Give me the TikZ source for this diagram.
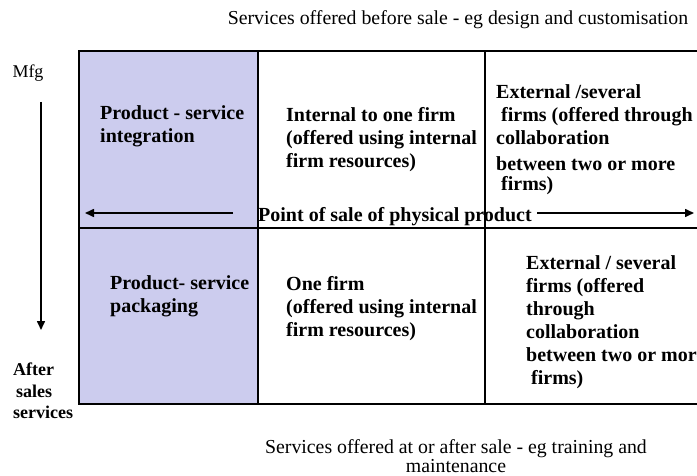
\documentclass[tikz,border=0pt]{standalone}
\usepackage{fontspec}
\setmainfont{Liberation Serif}
\usetikzlibrary{arrows.meta}
\definecolor{lav}{RGB}{204,204,238}
\begin{document}
\begin{tikzpicture}[x=1pt,y=-1pt,
  bt/.style={font=\fontsize{20}{23}\selectfont\bfseries, align=left, inner sep=0pt, anchor=north west},
  rt/.style={font=\fontsize{19.8}{19}\selectfont, align=center, inner sep=0pt},
  grid/.style={line width=1.8pt},
  arr/.style={line width=1.6pt, -{Triangle[length=9pt,width=8pt]}}]
\useasboundingbox (0,0) rectangle (697,476);
\clip (0,0) rectangle (697,476);
% cells
\fill[lav] (79,51) rectangle (258,404);
\draw[grid] (79,51) rectangle (720,404);
\draw[grid] (79,228) -- (720,228);
\draw[grid] (258,51) -- (258,404);
\draw[grid] (485,51) -- (485,404);
% texts
\node[rt] (top) at (458,20) {Services offered before sale - eg design and customisation};
\node[rt] (bot) at (456,456) {Services offered at or after sale - eg training and\\maintenance};
\node[rt, font=\fontsize{18}{20}\selectfont] (mfg) at (28,73) {Mfg};
\node[font=\fontsize{18}{21.5}\selectfont\bfseries, align=left, inner sep=0pt, anchor=north west] (after) at (13,363) {After\\\,sales\\services};
\node[bt] (c11) at (100,105) {Product - service\\integration};
\node[bt] (c12) at (286,107) {Internal to one firm\\(offered using internal\\firm resources)};
\node[bt] (c13) at (496,84) {External /several\\\ firms (offered through\\collaboration\\[3pt]between two or more\\[-3pt]\ firms)};
\node[bt] (c21) at (110,275) {Product- service\\packaging};
\node[bt] (c22) at (286,276) {One firm\\(offered using internal\\firm resources)};
\node[bt] (c23) at (526,255) {External / several\\firms (offered\\through\\collaboration\\between two or more\\\ firms)};
\node[bt, anchor=base west] (pos) at (258,222) {Point of sale of physical product};
% arrows
\coordinate (vt) at (41,102);
\coordinate (vb) at (41,330);
\coordinate (lt) at (233,213);
\coordinate (lh) at (85,213);
\coordinate (rt0) at (537,213);
\coordinate (rh) at (694,213);
\draw[arr] (vt) -- (vb);
\draw[arr] (lt) -- (lh);
\draw[arr] (rt0) -- (rh);
\end{tikzpicture}
\end{document}
